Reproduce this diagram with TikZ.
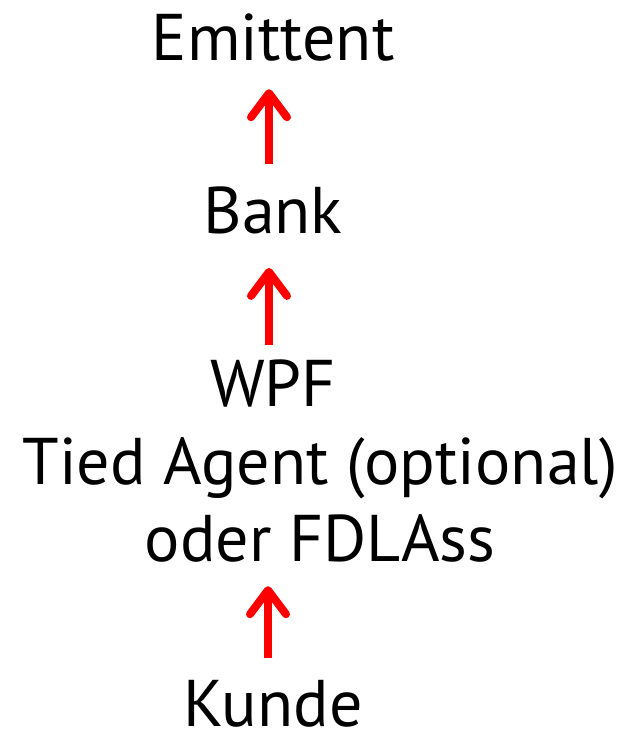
\documentclass[tikz,border=0pt]{standalone}
\usepackage{fontspec}
\setmainfont{PT Sans}
\usetikzlibrary{arrows.meta}

\begin{document}
\begin{tikzpicture}[x=0.5pt, y=-0.5pt,
  lbl/.style={anchor=base, inner sep=0pt, font=\fontsize{33}{38.5}\selectfont, align=center},
  uparr/.style={draw=red, line width=4pt, -{Straight Barb[length=12pt, width=18pt, round]}}]
  \useasboundingbox (0,0) rectangle (629,734);
  \node[lbl] (emittent) at (273,60) {Emittent};
  \node[lbl] (bank) at (273,233) {Bank};
  \node[lbl] (wpf) at (273,406) {WPF};
  \node[lbl] (agent) at (320,561) {Tied Agent (optional)\\oder FDLAss};
  \node[lbl] (kunde) at (273,726) {Kunde};

  % arrows sit a little left of the text centres
  \draw[uparr, shorten <=11pt, shorten >=14pt] ([xshift=-2pt]bank.north) -- ([xshift=-2pt]emittent.south);
  \draw[uparr, shorten <=7pt, shorten >=17pt] ([xshift=-2pt]wpf.north) -- ([xshift=-2pt]bank.south);
  \draw[uparr, shorten <=10.5pt, shorten >=12pt] ([xshift=-2.5pt]kunde.north) -- ([xshift=-2.5pt]kunde.north |- agent.south);
\end{tikzpicture}
\end{document}
